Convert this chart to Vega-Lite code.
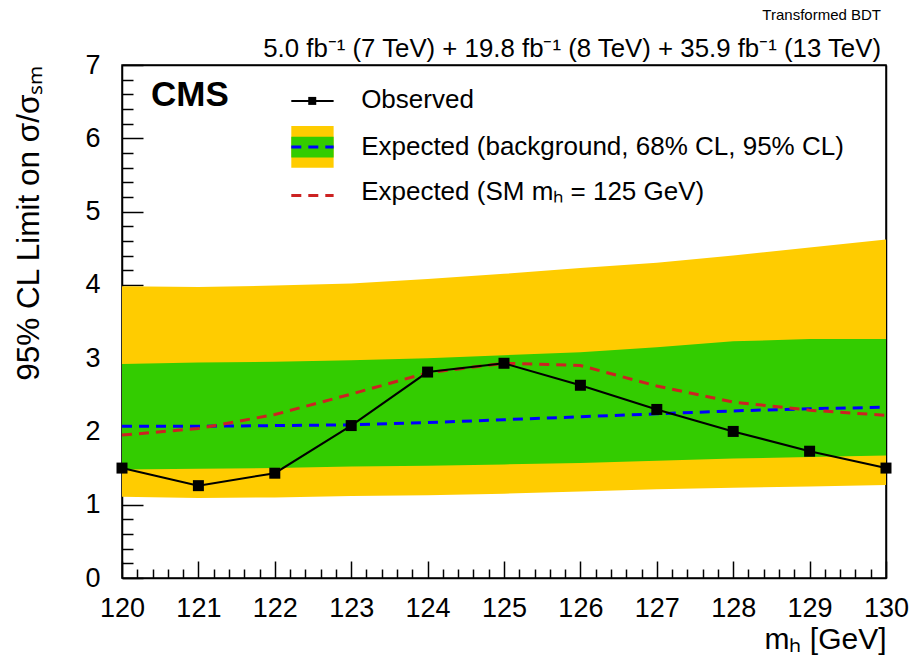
{
  "$schema": "https://vega.github.io/schema/vega-lite/v6.json",
  "width": 764,
  "height": 513,
  "autosize": "none",
  "padding": {"left": 122, "top": 65, "right": 28, "bottom": 80},
  "background": "white",
  "config": {
    "font": "Liberation Sans",
    "view": {"stroke": "black", "strokeWidth": 1.5},
    "axis": {"grid": false, "zindex": 1, "domainColor": "black", "domainWidth": 1.5, "tickColor": "black", "tickWidth": 1.5, "labelColor": "black", "titleColor": "black", "labelFont": "Liberation Sans", "titleFont": "Liberation Sans", "titleFontWeight": "normal", "labelOverlap": false, "labelFlush": false}
  },
  "title": {
    "text": "Transformed BDT",
    "subtitle": "5.0 fb⁻¹ (7 TeV) + 19.8 fb⁻¹ (8 TeV) + 35.9 fb⁻¹ (13 TeV)",
    "anchor": "end",
    "frame": "group",
    "font": "Liberation Sans",
    "fontSize": 15,
    "fontWeight": "normal",
    "color": "black",
    "subtitleFont": "Liberation Sans",
    "subtitleFontSize": 25.8,
    "subtitleColor": "black",
    "subtitlePadding": 14,
    "offset": -11,
    "dx": -5
  },
  "datasets": {
    "lim": [
      {"m": 120, "lo95": 1.11, "lo68": 1.48, "med": 2.07, "hi68": 2.92, "hi95": 3.98, "obs": 1.50, "sm": 1.95},
      {"m": 121, "lo95": 1.09, "lo68": 1.49, "med": 2.07, "hi68": 2.94, "hi95": 3.97, "obs": 1.26, "sm": 2.04},
      {"m": 122, "lo95": 1.10, "lo68": 1.50, "med": 2.08, "hi68": 2.95, "hi95": 3.99, "obs": 1.43, "sm": 2.23},
      {"m": 123, "lo95": 1.12, "lo68": 1.52, "med": 2.09, "hi68": 2.97, "hi95": 4.02, "obs": 2.08, "sm": 2.51},
      {"m": 124, "lo95": 1.13, "lo68": 1.53, "med": 2.12, "hi68": 3.00, "hi95": 4.08, "obs": 2.81, "sm": 2.80},
      {"m": 125, "lo95": 1.15, "lo68": 1.55, "med": 2.16, "hi68": 3.04, "hi95": 4.15, "obs": 2.93, "sm": 2.93},
      {"m": 126, "lo95": 1.18, "lo68": 1.57, "med": 2.20, "hi68": 3.08, "hi95": 4.23, "obs": 2.63, "sm": 2.90},
      {"m": 127, "lo95": 1.21, "lo68": 1.60, "med": 2.24, "hi68": 3.15, "hi95": 4.30, "obs": 2.30, "sm": 2.62},
      {"m": 128, "lo95": 1.23, "lo68": 1.63, "med": 2.28, "hi68": 3.23, "hi95": 4.40, "obs": 2.00, "sm": 2.40},
      {"m": 129, "lo95": 1.25, "lo68": 1.65, "med": 2.31, "hi68": 3.26, "hi95": 4.51, "obs": 1.73, "sm": 2.29},
      {"m": 130, "lo95": 1.27, "lo68": 1.67, "med": 2.33, "hi68": 3.26, "hi95": 4.62, "obs": 1.50, "sm": 2.22}
    ],
    "legtext": [
      {"x": 123.13, "y": 6.52, "label": "Observed"},
      {"x": 123.13, "y": 5.88, "label": "Expected (background, 68% CL, 95% CL)"},
      {"x": 123.13, "y": 5.27, "label": "Expected (SM mₕ = 125 GeV)"}
    ],
    "cms": [{"x": 120.38, "y": 6.44, "label": "CMS"}],
    "legbox": [{"x": 122.216, "x2": 122.77, "y": 5.598, "y2": 6.166, "g": 5.739, "g2": 6.021, "b": 5.88, "r": 5.22, "o": 6.51, "om": 122.49}]
  },
  "layer": [
    {
      "data": {"name": "lim"},
      "mark": {"type": "area", "color": "#ffcc00", "opacity": 1},
      "encoding": {
        "x": {"field": "m", "type": "quantitative", "scale": {"domain": [120, 130], "nice": false, "zero": false},
          "axis": {"orient": "bottom", "values": [120, 121, 122, 123, 124, 125, 126, 127, 128, 129, 130], "tickSize": -17, "labelFontSize": 27, "labelPadding": 34, "title": "mₕ [GeV]", "titleFontSize": 30, "titleAnchor": "end", "titlePadding": 3}},
        "y": {"field": "lo95", "type": "quantitative", "scale": {"domain": [0, 7], "nice": false, "zero": false},
          "axis": {"orient": "left", "values": [0, 1, 2, 3, 4, 5, 6, 7], "tickSize": -21, "labelFontSize": 27, "labelPadding": 43, "title": "95% CL Limit on σ/σₛₘ", "titleFontSize": 31.5, "titleAnchor": "end", "titlePadding": 39}},
        "y2": {"field": "hi95"}
      }
    },
    {
      "data": {"name": "lim"},
      "mark": {"type": "area", "color": "#33cc00", "opacity": 1},
      "encoding": {
        "x": {"field": "m", "type": "quantitative", "scale": {"domain": [120, 130], "nice": false, "zero": false},
          "axis": {"orient": "bottom", "values": [120.2, 120.4, 120.6, 120.8, 121.2, 121.4, 121.6, 121.8, 122.2, 122.4, 122.6, 122.8, 123.2, 123.4, 123.6, 123.8, 124.2, 124.4, 124.6, 124.8, 125.2, 125.4, 125.6, 125.8, 126.2, 126.4, 126.6, 126.8, 127.2, 127.4, 127.6, 127.8, 128.2, 128.4, 128.6, 128.8, 129.2, 129.4, 129.6, 129.8], "tickSize": -9, "labels": false, "domain": false, "title": null}},
        "y": {"field": "lo68", "type": "quantitative", "scale": {"domain": [0, 7], "nice": false, "zero": false},
          "axis": {"orient": "left", "values": [0.2, 0.4, 0.6, 0.8, 1.2, 1.4, 1.6, 1.8, 2.2, 2.4, 2.6, 2.8, 3.2, 3.4, 3.6, 3.8, 4.2, 4.4, 4.6, 4.8, 5.2, 5.4, 5.6, 5.8, 6.2, 6.4, 6.6, 6.8], "tickSize": -11, "labels": false, "domain": false, "title": null}},
        "y2": {"field": "hi68"}
      }
    },
    {
      "data": {"name": "lim"},
      "mark": {"type": "line", "color": "#0000ff", "strokeWidth": 3, "strokeDash": [10, 7]},
      "encoding": {
        "x": {"field": "m", "type": "quantitative", "scale": {"domain": [120, 130], "nice": false, "zero": false},
          "axis": {"orient": "top", "ticks": false, "labels": false, "domain": true, "title": null}},
        "y": {"field": "med", "type": "quantitative", "scale": {"domain": [0, 7], "nice": false, "zero": false},
          "axis": {"orient": "right", "ticks": false, "labels": false, "domain": true, "title": null}}
      }
    },
    {
      "data": {"name": "lim"},
      "mark": {"type": "line", "color": "#cc2222", "strokeWidth": 3, "strokeDash": [10, 7]},
      "encoding": {
        "x": {"field": "m", "type": "quantitative", "scale": {"domain": [120, 130], "nice": false, "zero": false}, "axis": null},
        "y": {"field": "sm", "type": "quantitative", "scale": {"domain": [0, 7], "nice": false, "zero": false}, "axis": null}
      }
    },
    {
      "data": {"name": "lim"},
      "mark": {"type": "line", "color": "black", "strokeWidth": 2},
      "encoding": {
        "x": {"field": "m", "type": "quantitative", "scale": {"domain": [120, 130], "nice": false, "zero": false}, "axis": null},
        "y": {"field": "obs", "type": "quantitative", "scale": {"domain": [0, 7], "nice": false, "zero": false}, "axis": null}
      }
    },
    {
      "data": {"name": "lim"},
      "mark": {"type": "point", "shape": "square", "filled": true, "color": "black", "opacity": 1, "size": 121},
      "encoding": {
        "x": {"field": "m", "type": "quantitative", "scale": {"domain": [120, 130], "nice": false, "zero": false}, "axis": null},
        "y": {"field": "obs", "type": "quantitative", "scale": {"domain": [0, 7], "nice": false, "zero": false}, "axis": null}
      }
    },
    {
      "data": {"name": "cms"},
      "mark": {"type": "text", "font": "Liberation Sans", "fontWeight": "bold", "fontSize": 35, "align": "left", "baseline": "alphabetic", "color": "black"},
      "encoding": {
        "x": {"field": "x", "type": "quantitative", "scale": {"domain": [120, 130], "nice": false, "zero": false}, "axis": null},
        "y": {"field": "y", "type": "quantitative", "scale": {"domain": [0, 7], "nice": false, "zero": false}, "axis": null},
        "text": {"field": "label"}
      }
    },
    {
      "data": {"name": "legtext"},
      "mark": {"type": "text", "font": "Liberation Sans", "fontSize": 26, "align": "left", "baseline": "middle", "color": "black"},
      "encoding": {
        "x": {"field": "x", "type": "quantitative", "scale": {"domain": [120, 130], "nice": false, "zero": false}, "axis": null},
        "y": {"field": "y", "type": "quantitative", "scale": {"domain": [0, 7], "nice": false, "zero": false}, "axis": null},
        "text": {"field": "label"}
      }
    },
    {
      "data": {"name": "legbox"},
      "mark": {"type": "rect", "color": "#ffcc00", "opacity": 1},
      "encoding": {
        "x": {"field": "x", "type": "quantitative", "scale": {"domain": [120, 130], "nice": false, "zero": false}, "axis": null},
        "x2": {"field": "x2"},
        "y": {"field": "y", "type": "quantitative", "scale": {"domain": [0, 7], "nice": false, "zero": false}, "axis": null},
        "y2": {"field": "y2"}
      }
    },
    {
      "data": {"name": "legbox"},
      "mark": {"type": "rect", "color": "#33cc00", "opacity": 1},
      "encoding": {
        "x": {"field": "x", "type": "quantitative", "scale": {"domain": [120, 130], "nice": false, "zero": false}, "axis": null},
        "x2": {"field": "x2"},
        "y": {"field": "g", "type": "quantitative", "scale": {"domain": [0, 7], "nice": false, "zero": false}, "axis": null},
        "y2": {"field": "g2"}
      }
    },
    {
      "data": {"name": "legbox"},
      "mark": {"type": "rule", "color": "#0000ff", "strokeWidth": 3, "strokeDash": [10, 7]},
      "encoding": {
        "x": {"field": "x", "type": "quantitative", "scale": {"domain": [120, 130], "nice": false, "zero": false}, "axis": null},
        "x2": {"field": "x2"},
        "y": {"field": "b", "type": "quantitative", "scale": {"domain": [0, 7], "nice": false, "zero": false}, "axis": null}
      }
    },
    {
      "data": {"name": "legbox"},
      "mark": {"type": "rule", "color": "#cc2222", "strokeWidth": 3, "strokeDash": [10, 7]},
      "encoding": {
        "x": {"field": "x", "type": "quantitative", "scale": {"domain": [120, 130], "nice": false, "zero": false}, "axis": null},
        "x2": {"field": "x2"},
        "y": {"field": "r", "type": "quantitative", "scale": {"domain": [0, 7], "nice": false, "zero": false}, "axis": null}
      }
    },
    {
      "data": {"name": "legbox"},
      "mark": {"type": "rule", "color": "black", "strokeWidth": 2},
      "encoding": {
        "x": {"field": "x", "type": "quantitative", "scale": {"domain": [120, 130], "nice": false, "zero": false}, "axis": null},
        "x2": {"field": "x2"},
        "y": {"field": "o", "type": "quantitative", "scale": {"domain": [0, 7], "nice": false, "zero": false}, "axis": null}
      }
    },
    {
      "data": {"name": "legbox"},
      "mark": {"type": "point", "shape": "square", "filled": true, "color": "black", "opacity": 1, "size": 64},
      "encoding": {
        "x": {"field": "om", "type": "quantitative", "scale": {"domain": [120, 130], "nice": false, "zero": false}, "axis": null},
        "y": {"field": "o", "type": "quantitative", "scale": {"domain": [0, 7], "nice": false, "zero": false}, "axis": null}
      }
    }
  ],
  "resolve": {"scale": {"x": "shared", "y": "shared"}, "axis": {"x": "independent", "y": "independent"}}
}
